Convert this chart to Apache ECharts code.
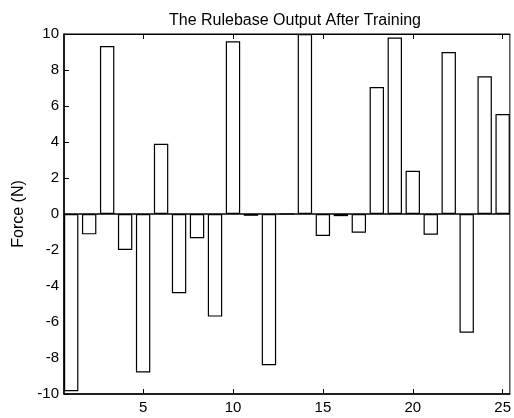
<!DOCTYPE html>
<html>
<head>
<meta charset="utf-8">
<script src="https://cdn.jsdelivr.net/npm/echarts@6/dist/echarts.min.js"></script>
<style>html,body{margin:0;padding:0;background:#fff;}#c{width:514px;height:418px;}</style>
</head>
<body>
<div id="c"></div>
<script>
var ruleIndex = [1,2,3,4,5,6,7,8,9,10,11,12,13,14,15,16,17,18,19,20,21,22,23,24,25];
var forceValues = [-9.85,-1.13,9.33,-2.0,-8.8,3.9,-4.4,-1.35,-5.7,9.6,-0.1,-8.4,0,10,-1.22,-0.12,-1.04,7.05,9.8,2.4,-1.15,9.0,-6.6,7.65,5.55];
var xTicks = [5,10,15,20,25];
var yTicks = [-10,-8,-6,-4,-2,0,2,4,6,8,10];
var titleText = 'The Rulebase Output After Training';
var yLabel = 'Force (N)';

var font = 'Liberation Sans, Arial, sans-serif';
var chart = echarts.init(document.getElementById('c'));
var data = ruleIndex.map(function(x,i){return [x, forceValues[i]];});
chart.setOption({
  animation:false,
  backgroundColor:'#fff',
  title:{text:titleText,left:290,top:8,textAlign:'center',
    textStyle:{fontFamily:font,fontSize:16,fontWeight:'normal',color:'#000'}},
  grid:{left:64,top:34,width:453,height:360,show:true,borderColor:'#000',borderWidth:1,backgroundColor:'transparent'},
  xAxis:[{
    type:'value',min:0.6,max:25.4,position:'bottom',
    axisLine:{show:true,onZero:false,lineStyle:{color:'#000',width:1.5}},
    axisTick:{show:true,inside:true,length:5,customValues:xTicks,lineStyle:{color:'#000'}},
    axisLabel:{show:true,customValues:xTicks,color:'#000',fontFamily:font,fontSize:15,margin:6},
    splitLine:{show:false}
  },{
    type:'value',min:0.6,max:25.4,position:'top',
    axisLine:{show:true,onZero:false,lineStyle:{color:'#000',width:1}},
    axisTick:{show:true,inside:true,length:5,customValues:xTicks,lineStyle:{color:'#000'}},
    axisLabel:{show:false},
    splitLine:{show:false}
  }],
  yAxis:{
    type:'value',min:-10,max:10,interval:2,
    name:yLabel,nameLocation:'middle',nameGap:31,
    nameTextStyle:{color:'#000',fontFamily:font,fontSize:16},
    axisLine:{show:true,lineStyle:{color:'#000',width:1.5}},
    axisTick:{show:true,inside:true,length:5,lineStyle:{color:'#000'}},
    axisLabel:{color:'#000',fontFamily:font,fontSize:15,margin:5},
    splitLine:{show:false}
  },
  series:[{
    type:'bar',xAxisIndex:0,data:data,barWidth:'80%',clip:true,
    itemStyle:{color:'#fff',borderColor:'#000',borderWidth:1.2},
    markLine:{silent:true,symbol:['none','none'],label:{show:false},
      lineStyle:{color:'#000',type:'solid',width:1.5},
      data:[{yAxis:0}]}
  }]
});
</script>
</body>
</html>
